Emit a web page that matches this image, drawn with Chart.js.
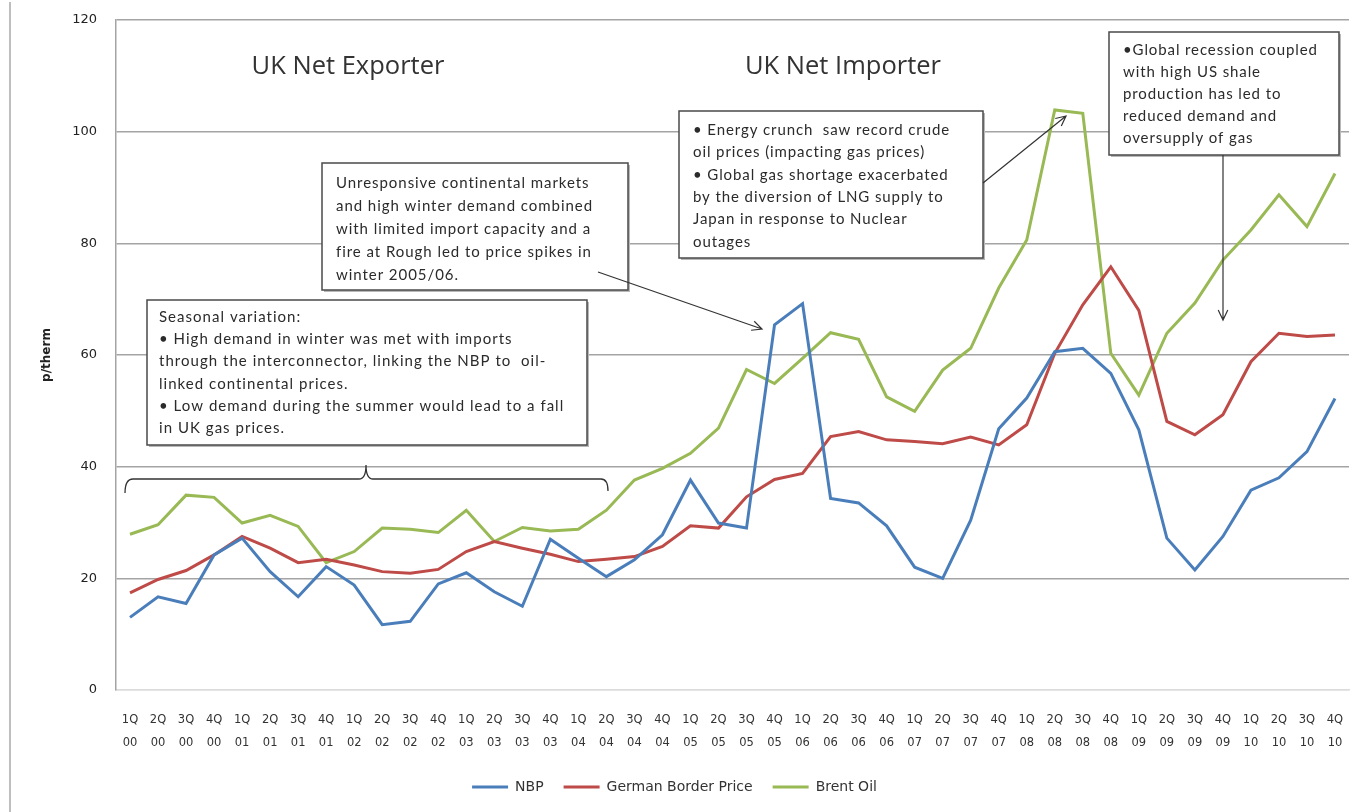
<!DOCTYPE html>
<html>
<head>
<meta charset="utf-8">
<title>NBP, German Border Price and Brent Oil</title>
<script src="https://cdn.jsdelivr.net/npm/chart.js@4.4.1/dist/chart.umd.min.js"></script>
<style>
  html, body { margin: 0; padding: 0; background: #fff; }
  #wrap { width: 1356px; height: 812px; }
</style>
</head>
<body>
<div id="wrap"><canvas id="gasChart" width="1356" height="812"></canvas></div>
<script>
const quarters = [
  ['1Q','00'], ['2Q','00'], ['3Q','00'], ['4Q','00'],
  ['1Q','01'], ['2Q','01'], ['3Q','01'], ['4Q','01'],
  ['1Q','02'], ['2Q','02'], ['3Q','02'], ['4Q','02'],
  ['1Q','03'], ['2Q','03'], ['3Q','03'], ['4Q','03'],
  ['1Q','04'], ['2Q','04'], ['3Q','04'], ['4Q','04'],
  ['1Q','05'], ['2Q','05'], ['3Q','05'], ['4Q','05'],
  ['1Q','06'], ['2Q','06'], ['3Q','06'], ['4Q','06'],
  ['1Q','07'], ['2Q','07'], ['3Q','07'], ['4Q','07'],
  ['1Q','08'], ['2Q','08'], ['3Q','08'], ['4Q','08'],
  ['1Q','09'], ['2Q','09'], ['3Q','09'], ['4Q','09'],
  ['1Q','10'], ['2Q','10'], ['3Q','10'], ['4Q','10']
];

const nbp = [
  13, 16.7, 15.5, 24.2,
  27.2, 21.2, 16.7, 22.1,
  18.8, 11.7, 12.3, 19,
  21, 17.6, 15, 27,
  23.6, 20.3, 23.3, 27.8,
  37.6, 29.9, 29, 65.4,
  69.2, 34.3, 33.5, 29.4,
  22, 20, 30.4, 46.8,
  52.3, 60.6, 61.2, 56.7,
  46.6, 27.2, 21.5, 27.5,
  35.8, 38, 42.7, 52.2
];

const germanBorder = [
  17.4, 19.8, 21.4, 24.2,
  27.5, 25.4, 22.8, 23.4,
  22.4, 21.2, 20.9, 21.6,
  24.8, 26.6, 25.4, 24.3,
  23, 23.4, 23.9, 25.7,
  29.4, 29, 34.6, 37.7,
  38.8, 45.4, 46.3, 44.8,
  44.5, 44.1, 45.3, 43.9,
  47.5, 60.3, 69, 75.8,
  68, 48.1, 45.7, 49.3,
  58.8, 63.9, 63.3, 63.6
];

const brentOil = [
  27.9, 29.6, 34.9, 34.5,
  29.9, 31.3, 29.3, 22.8,
  24.8, 29, 28.8, 28.2,
  32.2, 26.6, 29.1, 28.5,
  28.8, 32.2, 37.6, 39.7,
  42.4, 46.9, 57.4, 54.9,
  59.4, 64, 62.8, 52.5,
  49.9, 57.3, 61.2, 72,
  80.6, 103.9, 103.3, 60.3,
  52.8, 63.9, 69.3, 77,
  82.4, 88.7, 83, 92.5
];

const yTicks = [0, 20, 40, 60, 80, 100, 120];

// text boxes drawn over the plot
const notes = [
  {
    box: [322, 163, 306, 127], textX: 336, firstY: 183, gap: 23, width: 256,
    lines: [
      'Unresponsive continental markets',
      'and high winter demand combined',
      'with limited import capacity and a',
      'fire at Rough led to price spikes in',
      'winter 2005/06.'
    ]
  },
  {
    box: [147, 300, 440, 145], textX: 159, firstY: 317, gap: 22.3, width: 404,
    lines: [
      'Seasonal variation:',
      '\u2022 High demand in winter was met with imports',
      'through the interconnector, linking the NBP to  oil-',
      'linked continental prices.',
      '\u2022 Low demand during the summer would lead to a fall',
      'in UK gas prices.'
    ]
  },
  {
    box: [679, 111, 304, 147], textX: 693, firstY: 130, gap: 22.4, width: 256,
    lines: [
      '\u2022 Energy crunch  saw record crude',
      'oil prices (impacting gas prices)',
      '\u2022 Global gas shortage exacerbated',
      'by the diversion of LNG supply to',
      'Japan in response to Nuclear',
      'outages'
    ]
  },
  {
    box: [1109, 32, 230, 123], textX: 1123, firstY: 50, gap: 22, width: 194,
    lines: [
      '\u2022Global recession coupled',
      'with high US shale',
      'production has led to',
      'reduced demand and',
      'oversupply of gas'
    ]
  }
];

const arrows = [
  [598, 272, 762, 329],
  [983, 183, 1066, 116],
  [1223, 155, 1223, 320]
];

function drawArrow(ctx, a) {
  const [x1, y1, x2, y2] = a;
  const ang = Math.atan2(y2 - y1, x2 - x1);
  ctx.beginPath();
  ctx.moveTo(x1, y1);
  ctx.lineTo(x2, y2);
  ctx.moveTo(x2 - 11 * Math.cos(ang - 0.45), y2 - 11 * Math.sin(ang - 0.45));
  ctx.lineTo(x2, y2);
  ctx.lineTo(x2 - 11 * Math.cos(ang + 0.45), y2 - 11 * Math.sin(ang + 0.45));
  ctx.stroke();
}

function drawNote(ctx, n) {
  const [x, y, w, h] = n.box;
  ctx.fillStyle = '#b8b8b8';
  ctx.fillRect(x + 2, y + 2, w, h);
  ctx.fillStyle = '#fff';
  ctx.fillRect(x, y, w, h);
  ctx.strokeStyle = '#4a4a4a';
  ctx.lineWidth = 1.5;
  ctx.strokeRect(x, y, w, h);

  ctx.font = '15px Lato';
  ctx.fillStyle = '#2b2b2b';
  ctx.textAlign = 'left';
  ctx.textBaseline = 'middle';
  let widest = '';
  let ww = 0;
  n.lines.forEach(l => {
    const m = ctx.measureText(l).width;
    if (m > ww) { ww = m; widest = l; }
  });
  let sp = (n.width - ww) / (widest.length - 1);
  sp = Math.max(-0.5, Math.min(2, sp));
  if ('letterSpacing' in ctx) ctx.letterSpacing = sp.toFixed(2) + 'px';
  n.lines.forEach((l, i) => ctx.fillText(l, n.textX, n.firstY + i * n.gap));
  if ('letterSpacing' in ctx) ctx.letterSpacing = '0px';
}

const notesPlugin = {
  id: 'notes',
  beforeDraw(chart) {
    const ctx = chart.ctx;
    ctx.save();
    ctx.fillStyle = '#fff';
    ctx.fillRect(0, 0, chart.width, chart.height);
    ctx.strokeStyle = '#a8a8a8';
    ctx.lineWidth = 1.5;
    ctx.beginPath();
    ctx.moveTo(10, 2);
    ctx.lineTo(10, chart.height);
    ctx.stroke();
    ctx.restore();
  },
  afterDraw(chart) {
    const ctx = chart.ctx;
    ctx.save();

    // axis title
    ctx.save();
    ctx.translate(47, 355);
    ctx.rotate(-Math.PI / 2);
    ctx.font = 'bold 12px "DejaVu Sans"';
    ctx.fillStyle = '#222';
    ctx.textAlign = 'center';
    ctx.textBaseline = 'middle';
    ctx.fillText('p/therm', 0, 0);
    ctx.restore();

    // period headings
    ctx.font = '25.5px "Open Sans"';
    ctx.fillStyle = '#333';
    ctx.textAlign = 'center';
    ctx.textBaseline = 'middle';
    ctx.fillText('UK Net Exporter', 348, 67);
    ctx.fillText('UK Net Importer', 843, 67);

    // brace over the 2000-2004 seasonal pattern
    ctx.strokeStyle = '#333';
    ctx.lineWidth = 1.3;
    ctx.beginPath();
    ctx.moveTo(125, 493);
    ctx.quadraticCurveTo(125, 479, 133, 479);
    ctx.lineTo(359, 479);
    ctx.quadraticCurveTo(366, 479, 366, 465);
    ctx.quadraticCurveTo(366, 479, 373, 479);
    ctx.lineTo(601, 479);
    ctx.quadraticCurveTo(608, 479, 608, 491);
    ctx.stroke();

    notes.forEach(n => drawNote(ctx, n));

    ctx.strokeStyle = '#333';
    ctx.lineWidth = 1.2;
    arrows.forEach(a => drawArrow(ctx, a));

    ctx.restore();
  }
};

const seriesColors = ['#4a7ebb', '#be4b48', '#98b954'];

new Chart(document.getElementById('gasChart'), {
  type: 'line',
  data: {
    labels: quarters,
    datasets: [
      { label: 'NBP', data: nbp, borderColor: seriesColors[0], backgroundColor: seriesColors[0] },
      { label: 'German Border Price', data: germanBorder, borderColor: seriesColors[1], backgroundColor: seriesColors[1] },
      { label: 'Brent Oil', data: brentOil, borderColor: seriesColors[2], backgroundColor: seriesColors[2] }
    ]
  },
  options: {
    responsive: false,
    animation: false,
    layout: { padding: { left: 0, right: 7, top: 20, bottom: 8 } },
    elements: {
      line: { borderWidth: 3, tension: 0 },
      point: { radius: 0 }
    },
    plugins: {
      tooltip: { enabled: false },
      legend: {
        position: 'bottom',
        labels: {
          boxWidth: 36,
          boxHeight: 3,
          padding: 20,
          color: '#333',
          font: { family: '"DejaVu Sans"', size: 14 },
          generateLabels: chart =>
            Chart.defaults.plugins.legend.labels.generateLabels(chart)
              .map(l => Object.assign(l, { lineWidth: 0 }))
        }
      }
    },
    scales: {
      x: {
        offset: true,
        grid: { display: false, drawTicks: false },
        border: { display: true, color: '#dcdcdc', width: 1.5 },
        ticks: {
          autoSkip: false,
          maxRotation: 0,
          padding: 19,
          color: '#333',
          font: { family: '"DejaVu Sans"', size: 11.5, lineHeight: 1.95 }
        },
        afterFit: s => {
          s.height = 70;
          s.paddingLeft = 0;
          s.paddingRight = 0;
        }
      },
      y: {
        min: 0,
        max: 120,
        afterBuildTicks: s => { s.ticks = yTicks.map(v => ({ value: v })); },
        grid: {
          drawTicks: false,
          color: c => c.tick.value === 0 ? '#dcdcdc' : '#a4a4a4',
          lineWidth: 1.5
        },
        border: { display: true, color: '#a4a4a4', width: 1.5 },
        ticks: {
          padding: 19,
          color: '#222',
          font: { family: '"DejaVu Sans"', size: 13 }
        },
        afterFit: s => {
          s.width = 116;
          s.paddingTop = 0;
          s.paddingBottom = 0;
        }
      }
    }
  },
  plugins: [notesPlugin]
});
</script>
</body>
</html>
